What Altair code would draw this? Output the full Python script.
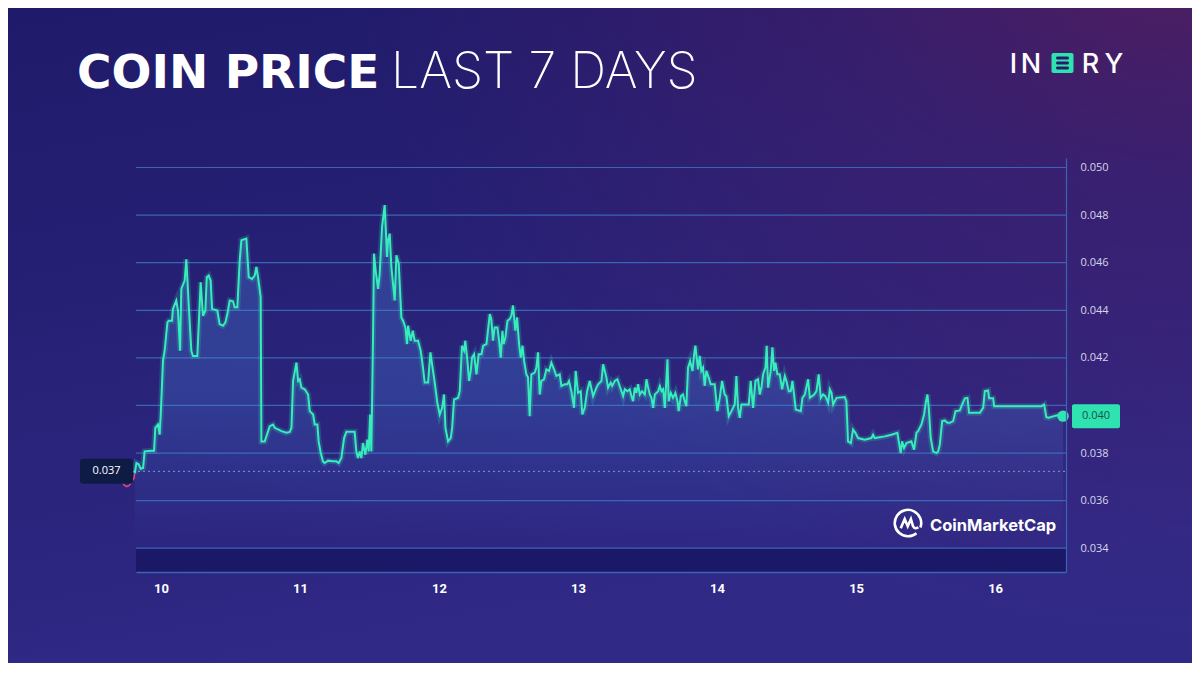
import altair as alt
import pandas as pd

# ---------------- data ----------------
days = [
    9.811, 9.823, 9.839, 9.854, 9.871, 9.882, 9.930, 9.950, 9.959, 9.978, 9.990, 9.998,
    10.014, 10.026, 10.046, 10.055, 10.079, 10.086, 10.110, 10.122, 10.137, 10.146, 10.170, 10.182,
    10.199, 10.218, 10.230, 10.261, 10.285, 10.302, 10.319, 10.329, 10.343, 10.357, 10.367, 10.405,
    10.422, 10.446, 10.463, 10.477, 10.494, 10.518, 10.530, 10.549, 10.566, 10.578, 10.614, 10.631,
    10.655, 10.674, 10.686, 10.698, 10.717, 10.722, 10.746, 10.782, 10.806, 10.818, 10.842, 10.866,
    10.902, 10.926, 10.938, 10.950, 10.974, 10.986, 10.998, 11.010, 11.034, 11.058, 11.070, 11.094,
    11.106, 11.125, 11.134, 11.149, 11.165, 11.177, 11.201, 11.237, 11.261, 11.278, 11.297, 11.317,
    11.333, 11.393, 11.405, 11.417, 11.429, 11.441, 11.453, 11.470, 11.484, 11.494, 11.504, 11.513,
    11.525, 11.532, 11.544, 11.561, 11.573, 11.590, 11.609, 11.626, 11.633, 11.645, 11.657, 11.669,
    11.681, 11.693, 11.710, 11.729, 11.741, 11.758, 11.770, 11.777, 11.796, 11.811, 11.825, 11.849,
    11.868, 11.880, 11.897, 11.921, 11.938, 11.950, 11.969, 11.988, 12.005, 12.022, 12.036, 12.046,
    12.065, 12.084, 12.094, 12.108, 12.137, 12.149, 12.165, 12.180, 12.189, 12.204, 12.216, 12.228,
    12.237, 12.252, 12.269, 12.285, 12.305, 12.317, 12.341, 12.365, 12.376, 12.388, 12.400, 12.420,
    12.432, 12.444, 12.456, 12.465, 12.477, 12.492, 12.508, 12.520, 12.532, 12.549, 12.561, 12.576,
    12.588, 12.600, 12.612, 12.628, 12.640, 12.652, 12.664, 12.688, 12.700, 12.712, 12.724, 12.736,
    12.755, 12.772, 12.791, 12.808, 12.827, 12.844, 12.868, 12.880, 12.904, 12.923, 12.935, 12.952,
    12.971, 12.983, 13.000, 13.019, 13.031, 13.048, 13.065, 13.084, 13.108, 13.132, 13.144, 13.168,
    13.180, 13.204, 13.216, 13.235, 13.245, 13.264, 13.283, 13.295, 13.312, 13.324, 13.336, 13.355,
    13.372, 13.384, 13.396, 13.408, 13.420, 13.432, 13.444, 13.460, 13.480, 13.492, 13.504, 13.516,
    13.528, 13.540, 13.552, 13.564, 13.576, 13.588, 13.600, 13.612, 13.624, 13.643, 13.652, 13.667,
    13.683, 13.700, 13.715, 13.724, 13.739, 13.755, 13.767, 13.779, 13.791, 13.806, 13.823, 13.835,
    13.844, 13.856, 13.863, 13.875, 13.887, 13.899, 13.911, 13.923, 13.940, 13.954, 13.983, 13.995,
    14.002, 14.019, 14.036, 14.055, 14.067, 14.084, 14.103, 14.127, 14.139, 14.151, 14.163, 14.175,
    14.228, 14.242, 14.259, 14.276, 14.295, 14.307, 14.319, 14.331, 14.348, 14.357, 14.367, 14.386,
    14.398, 14.410, 14.420, 14.434, 14.451, 14.468, 14.487, 14.499, 14.516, 14.530, 14.542, 14.554,
    14.566, 14.602, 14.614, 14.631, 14.655, 14.667, 14.698, 14.715, 14.731, 14.746, 14.763, 14.779,
    14.799, 14.811, 14.823, 14.835, 14.859, 14.918, 14.930, 14.942, 14.962, 14.978, 14.995, 15.014,
    15.062, 15.110, 15.122, 15.134, 15.206, 15.254, 15.297, 15.307, 15.321, 15.331, 15.345, 15.362,
    15.398, 15.417, 15.434, 15.446, 15.470, 15.489, 15.501, 15.513, 15.523, 15.537, 15.554, 15.578,
    15.590, 15.602, 15.619, 15.638, 15.657, 15.674, 15.698, 15.715, 15.746, 15.763, 15.782, 15.801,
    15.813, 15.890, 15.914, 15.926, 15.950, 15.957, 15.986, 15.993, 16.333, 16.353, 16.369, 16.386,
    16.424, 16.448, 16.489,
]
prices = [
    0.03715, 0.03758, 0.03753, 0.03734, 0.03737, 0.03807, 0.03810, 0.03810, 0.03906, 0.03920, 0.03877, 0.03962,
    0.04187, 0.04230, 0.04349, 0.04356, 0.04356, 0.04406, 0.04441, 0.04399, 0.04230, 0.04490, 0.04525, 0.04614,
    0.04427, 0.04230, 0.04208, 0.04208, 0.04518, 0.04377, 0.04399, 0.04539, 0.04546, 0.04525, 0.04406, 0.04399,
    0.04342, 0.04335, 0.04349, 0.04384, 0.04441, 0.04438, 0.04413, 0.04413, 0.04610, 0.04694, 0.04701, 0.04539,
    0.04532, 0.04546, 0.04582, 0.04539, 0.04455, 0.03849, 0.03849, 0.03913, 0.03920, 0.03906, 0.03899, 0.03892,
    0.03885, 0.03889, 0.03906, 0.04103, 0.04180, 0.04103, 0.04110, 0.04075, 0.04068, 0.04046, 0.03976, 0.03962,
    0.03920, 0.03920, 0.03849, 0.03800, 0.03765, 0.03758, 0.03768, 0.03765, 0.03765, 0.03758, 0.03779, 0.03863,
    0.03889, 0.03889, 0.03807, 0.03779, 0.03807, 0.03779, 0.03842, 0.03793, 0.03856, 0.03807, 0.03962, 0.03807,
    0.04286, 0.04638, 0.04568, 0.04490, 0.04553, 0.04751, 0.04842, 0.04624, 0.04694, 0.04722, 0.04582, 0.04511,
    0.04441, 0.04631, 0.04596, 0.04370, 0.04356, 0.04328, 0.04258, 0.04335, 0.04272, 0.04314, 0.04272, 0.04272,
    0.04230, 0.04180, 0.04096, 0.04096, 0.04223, 0.04173, 0.04096, 0.04011, 0.03962, 0.03990, 0.04046, 0.03906,
    0.03849, 0.03863, 0.03906, 0.04025, 0.04032, 0.04060, 0.04251, 0.04230, 0.04272, 0.04187, 0.04103, 0.04145,
    0.04201, 0.04215, 0.04131, 0.04215, 0.04215, 0.04251, 0.04258, 0.04384, 0.04363, 0.04272, 0.04328, 0.04328,
    0.04272, 0.04201, 0.04314, 0.04258, 0.04286, 0.04356, 0.04363, 0.04377, 0.04420, 0.04314, 0.04370, 0.04258,
    0.04201, 0.04251, 0.04187, 0.04131, 0.04117, 0.03955, 0.04131, 0.04138, 0.04159, 0.04223, 0.04046, 0.04103,
    0.04110, 0.04152, 0.04145, 0.04180, 0.04152, 0.04124, 0.04131, 0.04082, 0.04089, 0.04089, 0.04103, 0.04060,
    0.03990, 0.04145, 0.04053, 0.04060, 0.03962, 0.03990, 0.04060, 0.04103, 0.04039, 0.04075, 0.04089, 0.04103,
    0.04173, 0.04117, 0.04075, 0.04096, 0.04082, 0.04103, 0.04110, 0.04089, 0.04060, 0.04039, 0.04068, 0.04060,
    0.04068, 0.04039, 0.04018, 0.04075, 0.04053, 0.04089, 0.04046, 0.04060, 0.04046, 0.04110, 0.04075, 0.04046,
    0.04032, 0.03990, 0.04046, 0.04053, 0.04060, 0.04082, 0.04060, 0.04068, 0.03990, 0.04194, 0.04018, 0.04053,
    0.04032, 0.04053, 0.04018, 0.03976, 0.04039, 0.04046, 0.04018, 0.03997, 0.04159, 0.04187, 0.04145, 0.04215,
    0.04251, 0.04187, 0.04152, 0.04208, 0.04145, 0.04159, 0.04082, 0.04145, 0.04117, 0.04089, 0.04089, 0.04018,
    0.03976, 0.04032, 0.04103, 0.04046, 0.04039, 0.03955, 0.03976, 0.04004, 0.04124, 0.03990, 0.03948, 0.04004,
    0.04004, 0.04103, 0.03990, 0.04103, 0.04110, 0.04046, 0.04075, 0.04131, 0.04159, 0.04251, 0.04075, 0.04145,
    0.04244, 0.04145, 0.04180, 0.04131, 0.04131, 0.04068, 0.04124, 0.04103, 0.04060, 0.04060, 0.04103, 0.04046,
    0.03983, 0.03976, 0.04032, 0.04046, 0.04110, 0.04032, 0.04046, 0.04060, 0.04131, 0.04032, 0.04046, 0.04039,
    0.04011, 0.04068, 0.04053, 0.04004, 0.04032, 0.04035, 0.04018, 0.03849, 0.03842, 0.03899, 0.03885, 0.03863,
    0.03856, 0.03863, 0.03877, 0.03863, 0.03870, 0.03877, 0.03885, 0.03849, 0.03800, 0.03849, 0.03821, 0.03842,
    0.03849, 0.03814, 0.03885, 0.03892, 0.03920, 0.03962, 0.04011, 0.04046, 0.03990, 0.03863, 0.03807, 0.03800,
    0.03807, 0.03835, 0.03934, 0.03937, 0.03927, 0.03927, 0.03934, 0.03976, 0.03979, 0.04004, 0.04030, 0.04032,
    0.03969, 0.03969, 0.03990, 0.04060, 0.04063, 0.04030, 0.04030, 0.03997, 0.03997, 0.04004, 0.03951, 0.03948,
    0.03955, 0.03959, 0.03955,
]
# short red segment before the period starts
pre_days = [9.717, 9.734, 9.753, 9.770, 9.789, 9.806, 9.811]
pre_prices = [0.03687, 0.03666, 0.03659, 0.03663, 0.03680, 0.03694, 0.03715]

open_price = 0.03723
y_ticks = [0.034, 0.036, 0.038, 0.040, 0.042, 0.044, 0.046, 0.048, 0.050]
x_ticks = [10, 11, 12, 13, 14, 15, 16]

title_bold = "COIN PRICE"
title_light = "LAST 7 DAYS"
brand_letters = ["I", "N", "R", "Y"]
watermark = "CoinMarketCap"

# ---------------- layout / style ----------------
W, H = 930, 414
PAD = {"left": 128, "top": 150, "right": 126, "bottom": 91}
CW = W + PAD["left"] + PAD["right"]
CH = H + PAD["top"] + PAD["bottom"]
GREEN = "#36eebc"
GRID = "#3a64b4"

df = pd.DataFrame({"day": days, "price": prices})
pre = pd.DataFrame({"day": pre_days, "price": pre_prices})
last = df.iloc[[-1]].reset_index(drop=True)
grid_df = pd.DataFrame({"v": y_ticks})
one = pd.DataFrame({"k": [0]})

xs = alt.Scale(domain=[9.82, 16.51], nice=False, zero=False)
ys = alt.Scale(domain=[0.033, 0.0504], nice=False, zero=False)
X_AX = alt.Axis(values=x_ticks, format="d", title=None, grid=False, ticks=False,
                domain=True, domainColor=GRID, domainWidth=1.5, labelColor="#ffffff",
                labelFont="Liberation Sans Narrow, Roboto", labelFontWeight="bold",
                labelFontSize=13, labelPadding=10, zindex=1)
# the 0.040 tick label sits under the current-price tag in the reference
Y_AX = alt.Axis(orient="right", values=y_ticks, format=".3f", title=None, grid=False,
                ticks=False, domain=True, domainColor=GRID, domainWidth=1.2,
                labelColor="#d6d6ea", labelFont="Open Sans", labelFontSize=11,
                labelPadding=14, zindex=1,
                labelExpr="abs(datum.value - 0.04) < 1e-9 ? '' : datum.label")

X = alt.X("day:Q", scale=xs, axis=X_AX)
Y = alt.Y("price:Q", scale=ys, axis=Y_AX)

# background
bg = alt.Chart(one).mark_rect(color={
    "gradient": "linear", "x1": 0, "y1": 0, "x2": 0.3, "y2": 1,
    "stops": [{"offset": 0, "color": "#1f1a69"}, {"offset": 1, "color": "#302986"}]}
).encode(x=alt.value(-PAD["left"]), x2=alt.value(CW - PAD["left"]),
         y=alt.value(-PAD["top"]), y2=alt.value(CH - PAD["top"]))

glow = alt.Chart(one).mark_rect(color={
    "gradient": "radial", "x1": 1, "y1": 0, "r1": 0, "x2": 1, "y2": 0, "r2": 0.75,
    "stops": [{"offset": 0, "color": "rgba(125,30,70,0.85)"},
              {"offset": 0.5, "color": "rgba(90,30,100,0.35)"},
              {"offset": 1, "color": "rgba(90,30,100,0)"}]}
).encode(x=alt.value(-PAD["left"]), x2=alt.value(CW - PAD["left"]),
         y=alt.value(-PAD["top"]), y2=alt.value(CH - PAD["top"]))

band = alt.Chart(one).mark_rect(color="#1c1868").encode(
    x=alt.value(0), x2=alt.value(W),
    y=alt.Y(datum=y_ticks[0], scale=ys, axis=Y_AX), y2=alt.datum(0.033))

grid = alt.Chart(grid_df).mark_rule(color=GRID, strokeWidth=1.2).encode(
    y=alt.Y("v:Q", scale=ys, axis=Y_AX), x=alt.value(0), x2=alt.value(W))

open_rule = alt.Chart(one).mark_rule(color="#9fb4e6", strokeDash=[2, 3], strokeWidth=1,
                                     opacity=0.8).encode(
    y=alt.Y(datum=open_price, scale=ys, axis=Y_AX), x=alt.value(-3), x2=alt.value(W))

area = alt.Chart(df).mark_area(color={
    "gradient": "linear", "x1": 0, "y1": 0, "x2": 0, "y2": 1,
    "stops": [{"offset": 0, "color": "rgba(70,130,215,0.36)"},
              {"offset": 0.55, "color": "rgba(70,130,215,0.28)"},
              {"offset": 1, "color": "rgba(70,130,215,0)"}]}
).encode(x=X, y=Y, y2=alt.datum(0.0343))

line_glow = alt.Chart(df).mark_line(color=GREEN, strokeWidth=6, opacity=0.18).encode(x=X, y=Y)
pre_line = alt.Chart(pre).mark_line(color="#e2457e", strokeWidth=1.6).encode(x=X, y=Y)
line = alt.Chart(df).mark_line(color=GREEN, strokeWidth=2).encode(x=X, y=Y)
dot = alt.Chart(last).mark_circle(color="#2fe6b2", size=130, opacity=1).encode(x=X, y=Y)

# price tags
open_box = alt.Chart(one).mark_rect(color="#0e1b45", cornerRadius=3, yOffset=-12.5,
                                    y2Offset=12.5).encode(
    x=alt.value(-56), x2=alt.value(-3),
    y=alt.Y(datum=open_price, scale=ys, axis=Y_AX), y2=alt.datum(open_price))
open_txt = alt.Chart(one).mark_text(color="#ffffff", font="Open Sans", fontSize=11,
                                    align="center", baseline="middle").encode(
    x=alt.value(-29.5), y=alt.Y(datum=open_price, scale=ys, axis=Y_AX),
    text=alt.value(f"{open_price:.3f}"))
last_box = alt.Chart(last).mark_rect(color="#2fe3b0", cornerRadius=2, yOffset=-12,
                                     y2Offset=12).encode(
    x=alt.value(936), x2=alt.value(984), y=Y, y2="price:Q")
last_txt = alt.Chart(last).mark_text(color="#17524a", font="Open Sans", fontSize=11,
                                     align="center", baseline="middle").encode(
    x=alt.value(960), y=Y, text=alt.Text("price:Q", format=".3f"))

# title
t1 = alt.Chart(one).mark_text(text=title_bold, font="DejaVu Sans", fontWeight="bold",
                              fontSize=47, color="#ffffff", align="left",
                              baseline="alphabetic").encode(x=alt.value(-59), y=alt.value(-70))
t2 = alt.Chart(one).mark_text(text=title_light, font="Inter", fontWeight=200,
                              fontSize=50, color="#ffffff", align="left",
                              baseline="alphabetic").encode(x=alt.value(255), y=alt.value(-70))

# brand logo (top right)
brand_df = pd.DataFrame({"ch": brand_letters, "px": [877.5, 895, 954.5, 978]})
brand = alt.Chart(brand_df).mark_text(font="Inter", fontWeight=500, fontSize=27,
                                      color="#ffffff", align="center",
                                      baseline="alphabetic").encode(
    x=alt.X("px:Q", scale=None), y=alt.value(-85), text="ch:N")
brand_box = alt.Chart(one).mark_rect(color="#2fe3b0", cornerRadius=2).encode(
    x=alt.value(915.5), x2=alt.value(937.5), y=alt.value(-105), y2=alt.value(-85))
bars_df = pd.DataFrame({"b": [0, 1, 2], "py": [-101.5, -96.5, -91.5]})
brand_bars = alt.Chart(bars_df).mark_rect(color="#2a1d66", cornerRadius=1.5).encode(
    x=alt.value(920), x2=alt.value(933),
    y=alt.Y("py:Q", scale=None), y2=alt.Y2("py2:Q")
).transform_calculate(py2="datum.py + 3")

# CoinMarketCap watermark
cmc_path = ("M0.64,0.77 A1,1 0 1,1 0.94,0.34 "
            "M-0.55,0.4 L-0.25,-0.3 L-0.02,0.25 L0.22,-0.3 L0.38,0.25 Q0.5,0.5 0.78,0.32")
cmc_icon = alt.Chart(one).mark_point(shape=cmc_path, filled=False, stroke="#ffffff",
                                     strokeWidth=2.6, size=700, opacity=1).encode(
    x=alt.value(772), y=alt.value(365))
cmc_txt = alt.Chart(one).mark_text(text=watermark, font="Inter", fontWeight=700,
                                   fontSize=16.5, color="#ffffff", align="left",
                                   baseline="alphabetic").encode(
    x=alt.value(794), y=alt.value(373))

chart = alt.layer(
    bg, glow, band, grid, open_rule, area, line_glow, pre_line, line, dot,
    open_box, open_txt, last_box, last_txt, t1, t2, brand_box, brand_bars, brand,
    cmc_icon, cmc_txt,
).properties(
    width=W, height=H,
    autosize=alt.AutoSizeParams(type="none"),
    padding=PAD,
    background="#231e72",
).configure_view(stroke=None)

chart.save("out.html", embed_options={"renderer": "svg", "actions": False})
